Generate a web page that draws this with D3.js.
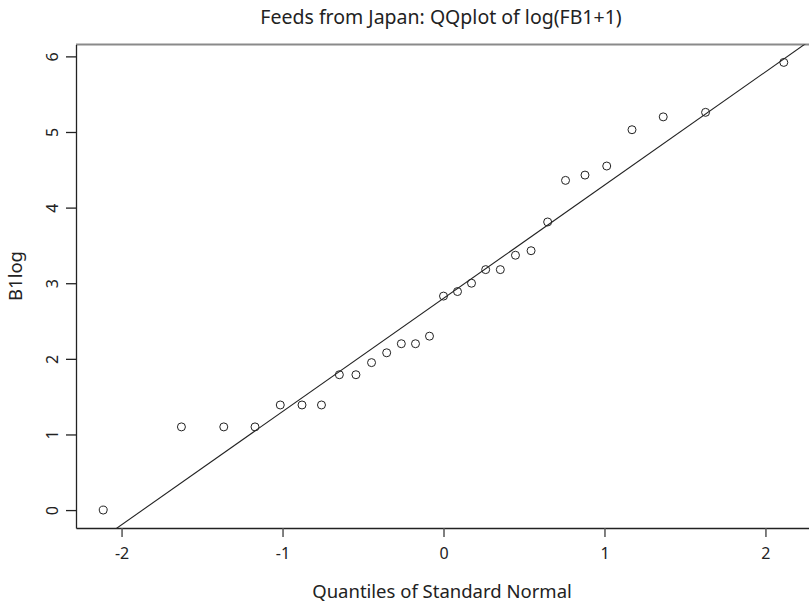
<!DOCTYPE html>
<html>
<head>
<meta charset="utf-8">
<script src="https://cdn.jsdelivr.net/npm/d3@7"></script>
<style>
  html, body { margin: 0; padding: 0; background: #fff; }
  svg { display: block; font-family: "Noto Sans", "Open Sans", sans-serif; }
</style>
</head>
<body>
<svg id="chart" width="809" height="604"></svg>
<script>
// Theoretical normal quantiles (x) and sorted log(FB1+1) sample values (y)
const normalQuantiles = [
  -2.114, -1.628, -1.365, -1.171, -1.014, -0.879, -0.758, -0.647, -0.544, -0.447,
  -0.353, -0.262, -0.174, -0.087, 0.000, 0.087, 0.174, 0.262, 0.353, 0.447,
  0.544, 0.647, 0.758, 0.879, 1.014, 1.171, 1.365, 1.628, 2.114
];
const sampleValues = [
  0.00, 1.10, 1.10, 1.10, 1.39, 1.39, 1.39, 1.79, 1.79, 1.95,
  2.08, 2.20, 2.20, 2.30, 2.83, 2.89, 3.00, 3.18, 3.18, 3.37,
  3.43, 3.81, 4.36, 4.43, 4.55, 5.03, 5.20, 5.26, 5.92
];
const xTicks = [-2, -1, 0, 1, 2];
const yTicks = [0, 1, 2, 3, 4, 5, 6];

const titleText = "Feeds from Japan: QQplot of log(FB1+1)";
const xLabel = "Quantiles of Standard Normal";
const yLabel = "B1log";

const svg = d3.select("#chart");

const x = d3.scaleLinear().domain([-2.283, 2.283]).range([76, 811]);
const y = d3.scaleLinear().domain([-0.237, 6.157]).range([528, 44.5]);

const fmt = d => String(d);

// Plot frame: gray top edge, black left and bottom axes
svg.append("line")
  .attr("x1", x.range()[0]).attr("x2", x.range()[1])
  .attr("y1", y.range()[1]).attr("y2", y.range()[1])
  .attr("stroke", "#8a8a8a").attr("stroke-width", 2);

const xAxis = d3.axisBottom(x).tickValues(xTicks).tickSize(9).tickSizeOuter(0)
  .tickPadding(11).tickFormat(fmt);
const gx = svg.append("g").attr("transform", `translate(0,${y.range()[0]})`).call(xAxis);
gx.attr("font-size", null).attr("font-family", null);
gx.select(".domain").attr("stroke", "#222").attr("stroke-width", 1.3);
gx.selectAll(".tick line").attr("stroke", "#555").attr("stroke-width", 1.5);
gx.selectAll(".tick text")
  .style("font-size", "16px").style("font-family", "'Noto Sans', sans-serif").attr("fill", "#222");

const yAxis = d3.axisLeft(y).tickValues(yTicks).tickSize(10).tickSizeOuter(0)
  .tickPadding(0).tickFormat(fmt);
const gy = svg.append("g").attr("transform", `translate(${x.range()[0]},0)`).call(yAxis);
gy.attr("font-size", null).attr("font-family", null);
gy.select(".domain").attr("stroke", "#222").attr("stroke-width", 1.3);
gy.selectAll(".tick line").attr("stroke", "#222").attr("stroke-width", 1.3);
gy.selectAll(".tick text")
  .style("font-size", "16px").style("font-family", "'Noto Sans', sans-serif").attr("fill", "#222")
  .attr("x", 0).attr("dy", null)
  .attr("text-anchor", "middle")
  .attr("transform", "translate(-24,0) rotate(-90)")
  .attr("dominant-baseline", "central");

// Reference line through the sample quartiles
const q1 = d3.quantileSorted(sampleValues, 0.25);
const q3 = d3.quantileSorted(sampleValues, 0.75);
const z = 0.6744898;
const slope = (q3 - q1) / (2 * z);
const intercept = q1 + z * slope;

svg.append("defs").append("clipPath").attr("id", "plotClip")
  .append("rect")
  .attr("x", x.range()[0]).attr("y", y.range()[1])
  .attr("width", x.range()[1] - x.range()[0])
  .attr("height", y.range()[0] - y.range()[1]);

const xd = x.domain();
svg.append("line")
  .attr("clip-path", "url(#plotClip)")
  .attr("x1", x(xd[0])).attr("y1", y(intercept + slope * xd[0]))
  .attr("x2", x(xd[1])).attr("y2", y(intercept + slope * xd[1]))
  .attr("stroke", "#222").attr("stroke-width", 1.1);

// Sample points
svg.append("g").selectAll("circle")
  .data(d3.zip(normalQuantiles, sampleValues))
  .join("circle")
  .attr("cx", d => x(d[0]))
  .attr("cy", d => y(d[1]))
  .attr("r", 4)
  .attr("fill", "none")
  .attr("stroke", "#222")
  .attr("stroke-width", 1);

// Titles
svg.append("text")
  .attr("x", 441).attr("y", 24)
  .attr("text-anchor", "middle")
  .attr("font-size", 19.5).attr("fill", "#222")
  .text(titleText);

svg.append("text")
  .attr("x", 442).attr("y", 598)
  .attr("text-anchor", "middle")
  .attr("font-size", 18.5).attr("fill", "#222")
  .text(xLabel);

svg.append("text")
  .attr("transform", "translate(22,276) rotate(-90)")
  .attr("text-anchor", "middle")
  .attr("font-size", 18.5).attr("fill", "#222")
  .text(yLabel);
</script>
</body>
</html>
